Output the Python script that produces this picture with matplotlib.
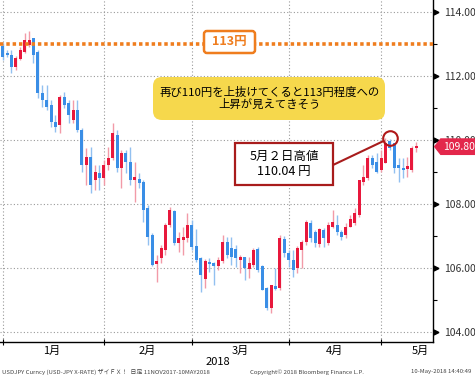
import matplotlib

matplotlib.use("Agg")
import matplotlib.pyplot as plt  # noqa: E402
from matplotlib.patches import FancyBboxPatch, Polygon  # noqa: E402
from matplotlib.ticker import FixedLocator, FormatStrFormatter  # noqa: E402
import matplotlib.transforms as mtrans  # noqa: E402

plt.rcParams["font.family"] = ["Noto Sans CJK JP", "DejaVu Sans"]

# USD/JPY daily candles, Jan 2018 - 10 May 2018
opens = [112.95, 112.74, 112.66, 112.30, 112.54, 112.76, 112.98, 113.18, 112.76, 111.48,
         111.26, 111.10, 110.57, 110.48, 111.35, 111.16, 110.63, 110.95, 110.32, 109.23,
         109.48, 108.76, 108.98, 108.82, 109.23, 109.45, 110.16, 109.13, 109.60, 109.32,
         108.76, 108.79, 108.70, 107.88, 107.04, 106.13, 106.32, 106.57, 107.35, 107.79,
         106.79, 106.88, 106.95, 107.35, 106.70, 106.32, 105.67, 106.20, 106.16, 106.07,
         106.23, 106.82, 106.63, 106.60, 106.26, 106.35, 105.98, 106.10, 106.60, 106.07,
         105.38, 104.76, 105.45, 105.38, 106.92, 106.48, 106.26, 106.01, 106.57, 106.82,
         107.42, 107.13, 106.76, 107.20, 106.79, 107.29, 107.35, 107.13, 107.04, 107.29,
         107.42, 107.67, 108.70, 108.82, 109.45, 109.32, 109.07, 109.29, 109.99, 109.92,
         109.23, 109.13, 109.13, 109.07, 109.76]
highs = [113.05, 112.82, 112.82, 112.62, 112.92, 113.35, 113.42, 113.20, 112.82, 111.73,
         111.73, 111.26, 110.79, 111.41, 111.51, 111.26, 111.26, 111.26, 110.38, 109.76,
         109.79, 109.23, 109.23, 109.38, 109.79, 110.54, 110.32, 109.70, 109.70, 109.79,
         109.32, 108.98, 108.76, 107.98, 107.10, 106.42, 106.73, 107.42, 107.92, 107.82,
         107.13, 107.29, 107.73, 107.51, 107.23, 106.35, 106.29, 106.32, 106.20, 106.35,
         107.04, 106.98, 106.98, 106.73, 106.42, 106.35, 106.35, 106.63, 106.66, 106.10,
         105.42, 105.48, 106.01, 107.04, 107.01, 106.57, 106.57, 106.70, 106.88, 107.51,
         107.51, 107.20, 107.26, 107.26, 107.45, 107.82, 107.67, 107.20, 107.42, 107.67,
         107.88, 108.76, 109.23, 109.54, 109.54, 109.60, 109.70, 110.07, 110.04, 109.92,
         109.45, 109.45, 109.48, 109.82, 109.95]
lows = [112.50, 112.60, 112.10, 112.20, 112.51, 112.73, 112.92, 112.42, 111.32, 111.04,
        110.95, 110.42, 110.26, 110.23, 111.01, 110.54, 110.54, 110.26, 109.00, 108.60,
        108.35, 108.45, 108.45, 108.60, 109.07, 109.38, 109.01, 108.51, 108.98, 108.60,
        108.07, 108.51, 107.45, 106.73, 106.07, 105.57, 106.16, 106.42, 107.29, 106.73,
        106.51, 106.42, 106.82, 106.57, 106.19, 105.26, 105.38, 105.88, 105.48, 105.95,
        106.16, 106.32, 106.10, 106.04, 105.85, 105.63, 105.70, 106.04, 105.88, 105.32,
        104.70, 104.60, 105.32, 105.32, 106.35, 106.04, 105.73, 105.85, 106.01, 106.73,
        106.82, 106.66, 106.66, 106.66, 106.73, 107.26, 107.04, 106.88, 106.95, 107.29,
        107.35, 107.60, 108.60, 108.76, 109.13, 108.98, 109.01, 109.29, 109.70, 108.98,
        108.70, 108.82, 108.85, 109.01, 109.63]
closes = [112.60, 112.66, 112.29, 112.57, 112.82, 113.13, 113.13, 112.67, 111.48, 111.26,
          111.04, 110.57, 110.42, 111.35, 111.10, 110.79, 110.95, 110.32, 109.23, 109.48,
          108.60, 109.01, 108.82, 109.23, 109.45, 110.23, 109.13, 109.60, 109.32, 108.76,
          108.85, 108.67, 107.82, 106.98, 106.10, 106.23, 106.63, 107.35, 107.82, 106.79,
          106.95, 106.98, 107.35, 106.66, 106.26, 105.79, 106.23, 106.13, 106.07, 106.26,
          106.82, 106.42, 106.35, 106.32, 106.35, 106.01, 106.16, 106.57, 105.95, 105.32,
          104.76, 105.48, 105.35, 106.95, 106.48, 106.26, 105.95, 106.63, 106.82, 107.45,
          106.95, 106.79, 107.23, 106.95, 107.35, 107.45, 107.13, 106.98, 107.29, 107.54,
          107.73, 108.76, 108.85, 109.45, 109.23, 109.01, 109.45, 109.92, 109.76, 109.13,
          109.13, 109.07, 109.17, 109.76, 109.80]

# candle index of the first trading day of each month, and label centres
month_starts = [1, 24, 44, 66, 87]
month_label_pos = [12.2, 33.8, 55.0, 76.3, 96.0]
month_labels = ["1月", "2月", "3月", "4月", "5月"]
y_major = [104, 106, 108, 110, 112, 114]
y_minor = [105, 107, 109, 111, 113]
level_113 = 113.0
high_idx, high_val = 89, 110.04
last_price = 109.80

BLUE, BLUE_W = "#3a8ee6", "#92c0f0"
RED, RED_W = "#e8183c", "#f29aa8"
ORANGE = "#ef7d1e"
DARKRED = "#a81c1c"

W, H = 475, 377
fig = plt.figure(figsize=(W / 100, H / 100), dpi=100)
ax = fig.add_axes([0, 1 - 342 / H, 433 / W, 342 / H])


def px_box(x0, y0, x1, y1, **kw):
    """Rounded box given in image pixels (origin top-left)."""
    p = FancyBboxPatch((x0 / 100, (H - y1) / 100), (x1 - x0) / 100, (y1 - y0) / 100,
                       transform=fig.dpi_scale_trans, **kw)
    fig.patches.append(p)
    return p


def px_text(x, y, s, **kw):
    kw.setdefault("zorder", 10)
    return fig.text(x / W, 1 - y / H, s, **kw)


# candles
xs = list(range(1, len(opens) + 1))
for x, o, h, l, c in zip(xs, opens, highs, lows, closes):
    up = c >= o
    ax.vlines(x, l, h, color=RED_W if up else BLUE_W, lw=1, zorder=2)
    bot, top = min(o, c), max(o, c)
    if top - bot < 0.07:
        mid = (top + bot) / 2
        bot, top = mid - 0.035, mid + 0.035
    ax.bar(x, top - bot, bottom=bot, width=0.68, color=RED if up else BLUE,
           lw=0, zorder=3)

# 113 yen level
ax.axhline(level_113, color=ORANGE, lw=2.6, linestyle=(0, (0.95, 0.8)), zorder=4)

ax.set_xlim(0.39, 98.8)
ax.set_ylim(103.70, 114.38)

# axes styling
for s in ("left", "top"):
    ax.spines[s].set_visible(False)
ax.spines["bottom"].set_linewidth(1)
ax.spines["right"].set_linewidth(1)

ax.yaxis.tick_right()
ax.set_yticks(y_major)
ax.yaxis.set_minor_locator(FixedLocator(y_minor))
ax.yaxis.set_major_formatter(FormatStrFormatter("%.2f"))
ax.tick_params(axis="y", which="major", length=0, pad=8, labelsize=7.5,
               labelcolor="#333333")
ax.tick_params(axis="y", which="minor", length=3, direction="out", width=0.8)

ax.set_xticks(month_starts)
ax.set_xticklabels([])
ax.set_xticks(month_label_pos, minor=True)
ax.set_xticklabels(month_labels, minor=True)
ax.tick_params(axis="x", which="major", direction="inout", length=5, width=0.8)
ax.tick_params(axis="x", which="minor", length=0, pad=3, labelsize=8)

ax.grid(True, which="major", color="#9a9a9a", lw=0.8, linestyle=(0, (1, 2)))
ax.set_axisbelow(True)

# tick triangles on the right axis
tri = mtrans.blended_transform_factory(ax.transAxes, ax.transData)
ax.plot([1.008] * len(y_major), y_major, ">", color="black", ms=3.5,
        transform=tri, clip_on=False, zorder=6)

# last price tag (covers part of the 110.00 label, as in the original)
tag = Polygon([(1.004, last_price), (1.018, last_price + 0.24), (1.1, last_price + 0.24),
               (1.1, last_price - 0.24), (1.018, last_price - 0.24)],
              closed=True, transform=tri, clip_on=False, color="#e3274b", zorder=7)
ax.add_patch(tag)
ax.text(1.06, last_price, f"{last_price:.2f}", transform=tri, ha="center",
        va="center", color="white", fontsize=7.5, zorder=8, clip_on=False)

ax.text(49.9, 103.70 - 20 / 32, "2018", ha="center", va="center", fontsize=8,
        clip_on=False)

# 113 label box
px_box(204, 31, 255, 53, boxstyle="round,pad=0,rounding_size=0.03",
       fc="white", ec=ORANGE, lw=1.8, zorder=5)
px_text(229.5, 42, "113円", ha="center", va="center", color=ORANGE,
        fontsize=9, fontweight="bold")

# yellow comment box
px_box(153, 77, 385, 120, boxstyle="round,pad=0,rounding_size=0.09",
       fc="#f6d84c", ec="none", zorder=5)
px_text(270, 98.5, "再び110円を上抜けてくると113円程度への\n上昇が見えてきそう",
        ha="center", va="center", fontsize=8.2, linespacing=1.15)

# May 2 high marker
ax.plot(high_idx, high_val + 0.03, "o", ms=10.5, mfc="none", mec="#b01818",
        mew=1.5, zorder=6)
ax.annotate("", xy=(high_idx, high_val + 0.03), xycoords="data",
            xytext=(333 / W, 1 - 165 / H), textcoords="figure fraction",
            arrowprops=dict(arrowstyle="-", color=DARKRED, lw=1.5,
                            shrinkA=0, shrinkB=5.5))
px_box(235, 143, 333, 185, boxstyle="square,pad=0", fc="white", ec=DARKRED,
       lw=1.6, zorder=5)
px_text(284, 164, "5月２日高値\n110.04 円", ha="center", va="center",
        fontsize=9, linespacing=1.2)

# footer
foot = dict(fontsize=4.3, color="#444444", va="center")
px_text(2, 372, "USDJPY Curncy (USD-JPY X-RATE) ザイＦＸ！  日足 11NOV2017-10MAY2018", **foot)
px_text(250, 372, "Copyright© 2018 Bloomberg Finance L.P.", **foot)
px_text(411, 372, "10-May-2018 14:40:49", **foot)

fig.savefig("out.png", dpi=100)
